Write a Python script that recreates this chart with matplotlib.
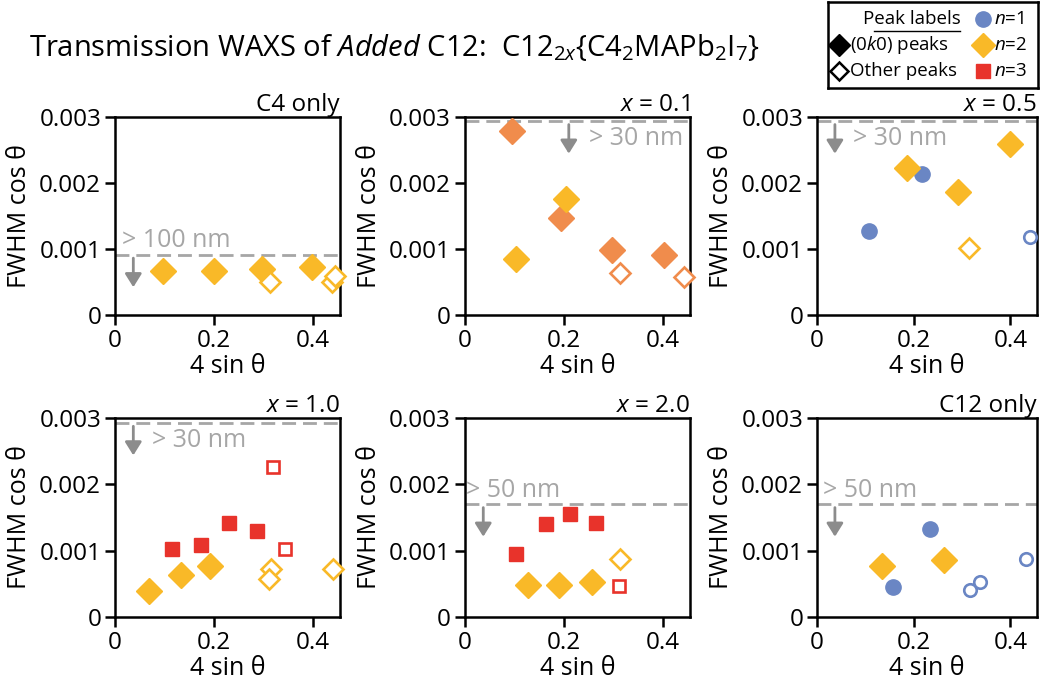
import matplotlib.pyplot as plt
import numpy as np

plt.rcParams['font.family'] = ['Open Sans', 'DejaVu Sans']
plt.rcParams['mathtext.fontset'] = 'custom'
plt.rcParams['mathtext.it'] = 'Open Sans:italic'
plt.rcParams['mathtext.rm'] = 'Open Sans'

BLUE = '#6a86c4'
YELLOW = '#f9b928'
ORANGE = '#f08c4c'
RED = '#e8332b'
GRAY = '#a6a6a6'

titles = ['C4 only', '$x$ = 0.1', '$x$ = 0.5', '$x$ = 1.0', '$x$ = 2.0', 'C12 only']
limits = [0.00091, 0.00293, 0.00293, 0.00293, 0.0017, 0.0017]
limit_labels = ['> 100 nm', '> 30 nm', '> 30 nm', '> 30 nm', '> 50 nm', '> 50 nm']

# C4 only
c4_n2_x = [0.098, 0.201, 0.298, 0.398]
c4_n2_y = [0.00066, 0.00066, 0.00070, 0.00073]
c4_n2o_x = [0.314, 0.438, 0.445]
c4_n2o_y = [0.00050, 0.00050, 0.00059]

# x = 0.1
x01_or_x = [0.096, 0.195, 0.298, 0.403]
x01_or_y = [0.00279, 0.00146, 0.00099, 0.00091]
x01_n2_x = [0.104, 0.205]
x01_n2_y = [0.00085, 0.00176]
x01_oro_x = [0.314, 0.443]
x01_oro_y = [0.00063, 0.00058]

# x = 0.5
x05_n1_x = [0.108, 0.217]
x05_n1_y = [0.00127, 0.00213]
x05_n2_x = [0.186, 0.291, 0.400]
x05_n2_y = [0.00222, 0.00186, 0.00259]
x05_n2o_x = [0.315]
x05_n2o_y = [0.00102]
x05_n1o_x = [0.440]
x05_n1o_y = [0.00118]

# x = 1.0
x10_n3_x = [0.115, 0.173, 0.230, 0.288]
x10_n3_y = [0.00103, 0.00108, 0.00142, 0.00130]
x10_n3o_x = [0.319, 0.344]
x10_n3o_y = [0.00227, 0.00103]
x10_n2_x = [0.068, 0.133, 0.193]
x10_n2_y = [0.00039, 0.00063, 0.00076]
x10_n2o_x = [0.316, 0.312, 0.441]
x10_n2o_y = [0.00072, 0.00057, 0.00072]

# x = 2.0
x20_n3_x = [0.104, 0.163, 0.212, 0.266]
x20_n3_y = [0.00095, 0.00140, 0.00155, 0.00142]
x20_n2_x = [0.128, 0.190, 0.256]
x20_n2_y = [0.00048, 0.00048, 0.00052]
x20_n2o_x = [0.313]
x20_n2o_y = [0.00088]
x20_n3o_x = [0.312]
x20_n3o_y = [0.00046]

# C12 only
c12_n1_x = [0.158, 0.233]
c12_n1_y = [0.00045, 0.00133]
c12_n2_x = [0.135, 0.263]
c12_n2_y = [0.00076, 0.00086]
c12_n1o_x = [0.317, 0.337, 0.433]
c12_n1o_y = [0.00040, 0.00052, 0.00088]

fig = plt.figure(figsize=(10.4, 6.84), dpi=100)
lefts = [0.1106, 0.4471, 0.7856]
widths = [0.2163, 0.2163, 0.2115]
bottoms = [0.5395, 0.0984]
H = 0.2900

axes = []
for r in range(2):
    for c in range(3):
        axes.append(fig.add_axes([lefts[c], bottoms[r], widths[c], H]))


def filled(ax, x, y, m, col, ms):
    ax.plot(x, y, ls='none', marker=m, ms=ms, mfc=col, mec=col, clip_on=False, zorder=3)


def hollow(ax, x, y, m, col, ms):
    ax.plot(x, y, ls='none', marker=m, ms=ms, mfc='white', mec=col, mew=1.9, clip_on=False, zorder=3)


D, C, S = 13, 11, 10.5

filled(axes[0], c4_n2_x, c4_n2_y, 'D', YELLOW, D)
hollow(axes[0], c4_n2o_x, c4_n2o_y, 'D', YELLOW, D - 2.5)

filled(axes[1], x01_or_x, x01_or_y, 'D', ORANGE, D)
filled(axes[1], x01_n2_x, x01_n2_y, 'D', YELLOW, D)
hollow(axes[1], x01_oro_x, x01_oro_y, 'D', ORANGE, D - 2.5)

filled(axes[2], x05_n1_x, x05_n1_y, 'o', BLUE, C)
filled(axes[2], x05_n2_x, x05_n2_y, 'D', YELLOW, D)
hollow(axes[2], x05_n2o_x, x05_n2o_y, 'D', YELLOW, D - 2.5)
hollow(axes[2], x05_n1o_x, x05_n1o_y, 'o', BLUE, C - 2)

filled(axes[3], x10_n3_x, x10_n3_y, 's', RED, S)
hollow(axes[3], x10_n3o_x, x10_n3o_y, 's', RED, S - 2)
filled(axes[3], x10_n2_x, x10_n2_y, 'D', YELLOW, D)
hollow(axes[3], x10_n2o_x, x10_n2o_y, 'D', YELLOW, D - 2.5)

filled(axes[4], x20_n3_x, x20_n3_y, 's', RED, S)
filled(axes[4], x20_n2_x, x20_n2_y, 'D', YELLOW, D)
hollow(axes[4], x20_n2o_x, x20_n2o_y, 'D', YELLOW, D - 2.5)
hollow(axes[4], x20_n3o_x, x20_n3o_y, 's', RED, S - 2)

filled(axes[5], c12_n1_x, c12_n1_y, 'o', BLUE, C)
filled(axes[5], c12_n2_x, c12_n2_y, 'D', YELLOW, D)
hollow(axes[5], c12_n1o_x, c12_n1o_y, 'o', BLUE, C - 2)

arrow_x = [0.037, 0.21, 0.037, 0.037, 0.037, 0.037]
for i, ax in enumerate(axes):
    ax.set_xlim(0, 0.455)
    ax.set_ylim(0, 0.003)
    ax.set_xticks([0, 0.2, 0.4])
    ax.set_xticklabels(['0', '0.2', '0.4'])
    ax.set_yticks([0, 0.001, 0.002, 0.003])
    ax.set_yticklabels(['0', '0.001', '0.002', '0.003'])
    ax.tick_params(direction='out', length=7, width=1.8, labelsize=17.5, pad=3)
    for sp in ax.spines.values():
        sp.set_linewidth(1.8)
    ax.set_xlabel('4 sin θ', fontsize=18, labelpad=1)
    ax.set_ylabel('FWHM cos θ', fontsize=18, labelpad=5)
    ax.set_title(titles[i], loc='right', fontsize=17.5, pad=1)
    lim = limits[i]
    ax.axhline(lim, color=GRAY, ls=(0, (5, 2.5)), lw=2, zorder=1, clip_on=False)
    ax.annotate('', xy=(arrow_x[i], lim - 0.00049), xytext=(arrow_x[i], lim - 0.00005),
                arrowprops=dict(arrowstyle='-|>,head_width=0.5,head_length=0.8',
                                color='#8c8c8c', lw=2, shrinkA=0, shrinkB=0))

text_kw = dict(color=GRAY, fontsize=18)
axes[0].text(0.015, 0.00093, limit_labels[0], va='bottom', ha='left', **text_kw)
axes[1].text(0.25, 0.00267, limit_labels[1], va='center', ha='left', **text_kw)
axes[2].text(0.075, 0.00267, limit_labels[2], va='center', ha='left', **text_kw)
axes[3].text(0.075, 0.00267, limit_labels[3], va='center', ha='left', **text_kw)
axes[4].text(0.003, 0.00172, limit_labels[4], va='bottom', ha='left', **text_kw)
axes[5].text(0.012, 0.00172, limit_labels[5], va='bottom', ha='left', **text_kw)

fig.text(0.028, 0.93,
         'Transmission WAXS of $\\it{Added}$ C12:  C12$_{2x}${C4$_2$MAPb$_2$I$_7$}',
         fontsize=21, ha='left', va='center')

# legend box
lg = fig.add_axes([828 / 1040, 1 - 88 / 684, 210 / 1040, 86 / 684])
lg.set_xlim(0, 1)
lg.set_ylim(0, 1)
lg.set_xticks([])
lg.set_yticks([])
for sp in lg.spines.values():
    sp.set_linewidth(1.8)
lg_kw = dict(fontsize=13.5, va='center')
lg.text(0.63, 0.80, 'Peak labels', ha='right', **lg_kw)
lg.plot([0.22, 0.63], [0.66, 0.66], color='black', lw=1)
lg.plot([0.05], [0.50], marker='D', ms=11, color='black', ls='none')
lg.text(0.105, 0.50, '(0$\\it{k}$0) peaks', ha='left', **lg_kw)
lg.plot([0.05], [0.20], marker='D', ms=9.5, mfc='white', mec='black', mew=1.8, ls='none')
lg.text(0.105, 0.20, 'Other peaks', ha='left', **lg_kw)
lg.plot([0.74], [0.80], marker='o', ms=11, color=BLUE, ls='none')
lg.plot([0.74], [0.50], marker='D', ms=12, color=YELLOW, ls='none')
lg.plot([0.74], [0.20], marker='s', ms=10, color=RED, ls='none')
for yy, nn in zip([0.80, 0.50, 0.20], ['1', '2', '3']):
    lg.text(0.79, yy, '$\\it{n}$=' + nn, ha='left', **lg_kw)

fig.savefig('out.png', dpi=100)
